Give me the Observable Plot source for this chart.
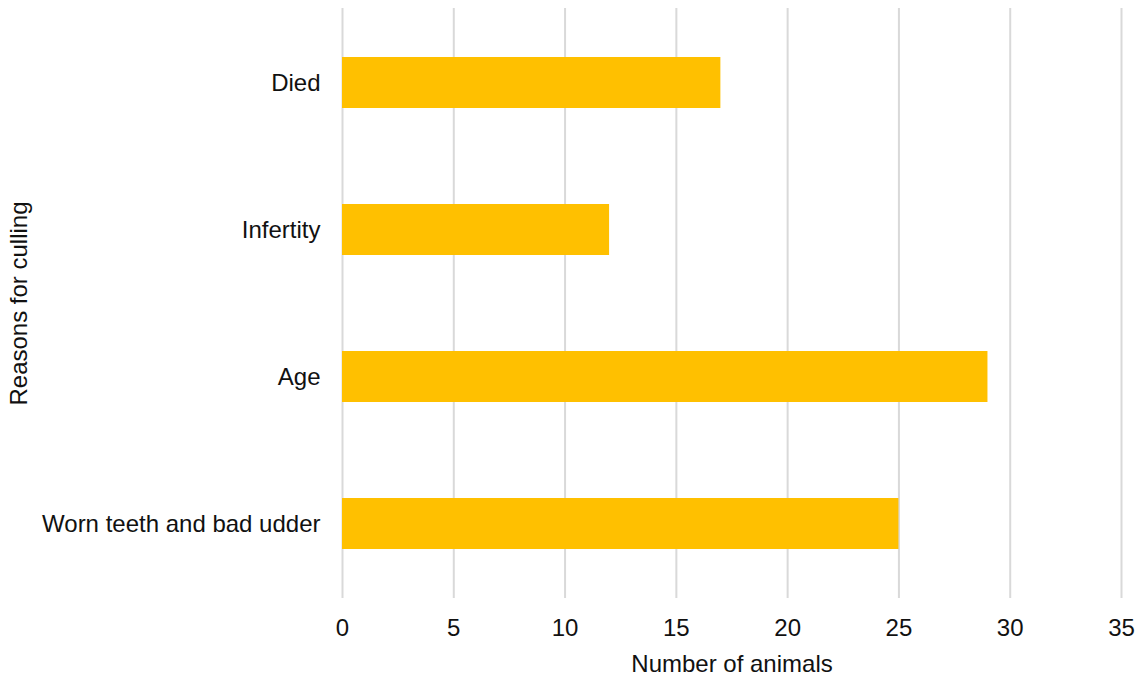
<!DOCTYPE html>
<html>
<head>
<meta charset="utf-8">
<script src="https://cdn.jsdelivr.net/npm/d3@7"></script>
<script src="https://cdn.jsdelivr.net/npm/@observablehq/plot@0.6"></script>
<style>
  html, body { margin: 0; padding: 0; background: #fff; }
  #chart svg { display: block; }
</style>
</head>
<body>
<div id="chart"></div>
<script>
// Reasons animals were culled from the herd, with counts
const reasons = ["Died", "Infertity", "Age", "Worn teeth and bad udder"];
const counts = [17, 12, 29, 25];
const xTicks = [0, 5, 10, 15, 20, 25, 30, 35];

const data = reasons.map((reason, i) => ({reason, count: counts[i]}));

const chart = Plot.plot({
  width: 1139,
  height: 676,
  marginLeft: 342,
  marginRight: 18,
  marginTop: 8,
  marginBottom: 78,
  style: {
    fontFamily: "Arial, 'Liberation Sans', sans-serif",
    fontSize: "24px",
    color: "#111",
    background: "#fff"
  },
  x: {domain: [0, 35]},
  y: {domain: reasons, paddingInner: 0.65, paddingOuter: 0.325},
  marks: [
    Plot.ruleX(xTicks, {stroke: "#d9d9d9", strokeWidth: 2}),
    Plot.barX(data, {x: "count", y: "reason", fill: "#FFC000"}),
    Plot.axisX({
      ticks: xTicks,
      tickSize: 0,
      tickPadding: 20,
      fontSize: 24,
      label: "Number of animals",
      labelAnchor: "center",
      labelArrow: "none",
      labelOffset: 73
    }),
    Plot.axisY({
      tickSize: 0,
      tickPadding: 22,
      fontSize: 24,
      label: "Reasons for culling",
      labelAnchor: "center",
      labelArrow: "none",
      labelOffset: 333
    })
  ]
});

document.getElementById("chart").appendChild(chart);
</script>
</body>
</html>
